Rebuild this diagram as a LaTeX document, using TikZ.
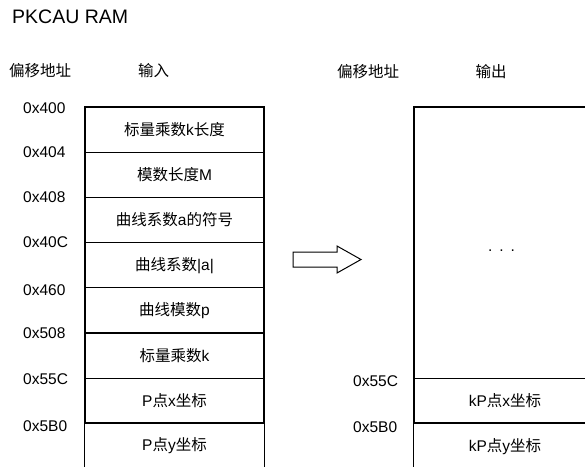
\documentclass[tikz,border=0pt]{standalone}
\usepackage{fontspec}
\setmainfont{Liberation Sans}
\newfontfamily\cjk{Noto Sans CJK SC}
\newcommand\zhtxt[1]{{\cjk #1}}
\begin{document}
\begin{tikzpicture}[x=1pt,y=-1pt,
  txt/.style={font=\fontsize{15.5}{18}\selectfont, inner sep=0pt, text=black},
  addr/.style={txt, anchor=west},
  cell/.style={txt, minimum width=179pt, minimum height=45.2pt, line width=1.3pt},
  rcell/.style={txt, minimum width=182pt, minimum height=45.2pt, line width=1.3pt},
  edge/.style={line width=1.3pt}]
\useasboundingbox (0,0) rectangle (585,466);
\clip (0,0) rectangle (585,466);

\node[anchor=west, inner sep=0pt, font=\fontsize{19.5}{22}\selectfont] (title) at (12,17) {PKCAU RAM};

\node[txt, anchor=west] (hl) at (9,71) {\zhtxt{偏移地址}};
\node[txt] (hin) at (153.5,71) {\zhtxt{输入}};
\node[txt, anchor=west] (hr) at (337,72) {\zhtxt{偏移地址}};
\node[txt] (hout) at (491,72) {\zhtxt{输出}};

% left table
\node[cell, draw] (c1) at (174.5,129.6) {\zhtxt{标量乘数}k\zhtxt{长度}};
\node[cell, draw] (c2) at (174.5,174.8) {\zhtxt{模数长度}M};
\node[cell, draw] (c3) at (174.5,220.0) {\zhtxt{曲线系数}a\zhtxt{的符号}};
\node[cell, draw] (c4) at (174.5,265.2) {\zhtxt{曲线系数}|a|};
\node[cell, draw] (c5) at (174.5,310.4) {\zhtxt{曲线模数}p};
\node[cell, draw] (c6) at (174.5,355.6) {\zhtxt{标量乘数}k};
\node[cell, draw] (c7) at (174.5,400.8) {P\zhtxt{点}x\zhtxt{坐标}};
\node[cell] (c8) at (174.5,446.0) {P\zhtxt{点}y\zhtxt{坐标}};
\draw[edge] (c8.south west) -- (c8.north west) -- (c8.north east) -- (c8.south east);

% addresses left
\node[addr] (a1) at (23,108) {0x400};
\node[addr] (a2) at (23,152) {0x404};
\node[addr] (a3) at (23,197) {0x408};
\node[addr] (a4) at (23,242) {0x40C};
\node[addr] (a5) at (23,290) {0x460};
\node[addr] (a6) at (23,333) {0x508};
\node[addr] (a7) at (23,379) {0x55C};
\node[addr] (a8) at (23,426) {0x5B0};

% arrow
\draw[line width=1pt] (293,252) -- (337,252) -- (337,246) -- (361,259.5) -- (337,273) -- (337,267) -- (293,267) -- cycle;

% right table
\node[rcell, draw, minimum height=271.4pt] (rbox) at (505,242.7) {};
\node[txt] (dots) at (501.5,250.5) {.\hspace{7pt}.\hspace{7pt}.};
\node[rcell, draw] (r1) at (505,401) {kP\zhtxt{点}x\zhtxt{坐标}};
\node[rcell] (r2) at (505,446.2) {kP\zhtxt{点}y\zhtxt{坐标}};
\draw[edge] (r2.south west) -- (r2.north west) -- (r2.north east) -- (r2.south east);

\node[addr] (b1) at (353,381) {0x55C};
\node[addr] (b2) at (353,427) {0x5B0};
\end{tikzpicture}
\end{document}
